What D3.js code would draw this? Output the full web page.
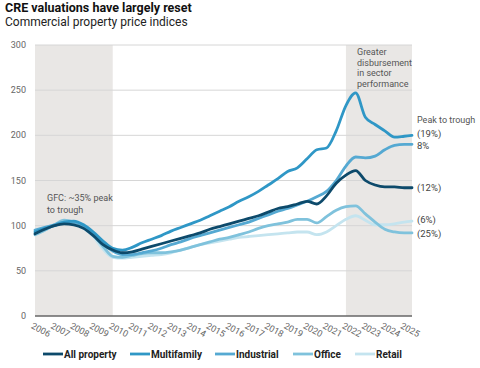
<!DOCTYPE html>
<html><head><meta charset="utf-8">
<script src="https://cdn.jsdelivr.net/npm/d3@7"></script>
<style>
body{margin:0;background:#fff;}
svg text{font-family:Roboto,"Liberation Sans",Arial,sans-serif;}
</style></head>
<body><svg id="c" width="480" height="368"></svg>
<script>
const dates = [2006,2006.5,2007,2007.5,2008,2008.5,2009,2009.5,2010,2010.5,2011,2011.5,2012,2012.5,2013,2013.5,2014,2014.5,2015,2015.5,2016,2016.5,2017,2017.5,2018,2018.5,2019,2019.5,2020,2020.5,2021,2021.5,2022,2022.5,2023,2023.5,2024,2024.5,2025,2025.4];
const allProperty = [91,96,100,102,101,97,89,79,73,70,71,74,77,80,83,86,89,92,96,99,102,105,108,111,115,119,121,124,127,124,133,147,156,161,150,145,143,143,142,142];
const multifamily = [93,97,100,104,105,101,93,83,75,73,76,81,85,89,94,98,102,106,111,116,121,127,132,138,145,152,160,164,174,184,186,205,233,247,220,212,205,198,199,200];
const industrial = [95,98,101,104,104,99,91,80,72,68,68,70,72,75,79,82,86,89,92,95,98,101,104,108,112,116,119,123,127,132,138,150,166,176,175,177,184,189,190,190];
const office = [90,95,101,106,104,99,90,77,66,65,67,69,70,70,71,73,76,79,82,85,87,90,93,97,100,102,104,107,107,103,110,117,121,122,113,104,96,93,92,92];
const retail = [93,97,100,104,103,97,88,74,65,64,65,66,67,68,70,73,76,79,81,83,85,87,88,89,90,91,92,93,93,90,93,100,107,111,106,101,101,102,104,105];
const seriesNames = ["All property","Multifamily","Industrial","Office","Retail"];
const seriesValues = [allProperty, multifamily, industrial, office, retail];
const seriesColors = ["#0d4a6b","#2f97c6","#55a9d2","#7fc2dc","#c4e4ef"];
const endLabels = ["(12%)","(19%)","8%","(25%)","(6%)"];
const yTicks = [0,50,100,150,200,250,300];
const xTicks = d3.range(2006,2026);
const shadeRanges = [[2006,2010],[2022,2025.4]];

const svg = d3.select("#c");
const L=35,R=412,T=45,B=316;
const x = d3.scaleLinear().domain([2006,2025.4]).range([L,R]);
const y = d3.scaleLinear().domain([0,300]).range([B,T]);

svg.append("text").attr("x",5).attr("y",12).attr("font-size",12.5).attr("font-weight","bold").attr("fill","#111").text("CRE valuations have largely reset");
svg.append("text").attr("x",5).attr("y",26).attr("font-size",12).attr("fill","#222").text("Commercial property price indices");

svg.selectAll("rect.shade").data(shadeRanges).enter().append("rect")
  .attr("x",d=>x(d[0])).attr("width",d=>x(d[1])-x(d[0]))
  .attr("y",T).attr("height",B-T).attr("fill","#e9e7e5");

svg.selectAll("line.grid").data(yTicks.filter(d=>d>0)).enter().append("line")
  .attr("x1",L).attr("x2",R).attr("y1",d=>y(d)).attr("y2",d=>y(d))
  .attr("stroke","#d6d6d6").attr("stroke-width",1);

svg.selectAll("text.yl").data(yTicks).enter().append("text")
  .attr("x",26).attr("y",d=>y(d)).attr("dy","0.35em").attr("text-anchor","end")
  .attr("font-size",9).attr("fill","#666").text(d=>d);

svg.selectAll("text.xl").data(xTicks).enter().append("text")
  .attr("transform",d=>`translate(${x(d)-3},${B+9}) rotate(28)`)
  .attr("dy","0.35em").attr("font-size",9).attr("fill","#666").text(d=>d);

// annotations
const ann = svg.append("g").attr("font-size",9).attr("fill","#555");
["Greater","disbursement","in sector","performance"].forEach((t,i)=>
  ann.append("text").attr("x",357).attr("y",55+i*10.5).text(t));
ann.append("text").attr("x",47).attr("y",201).text("GFC: ~35% peak");
ann.append("text").attr("x",47).attr("y",213).text("to trough");
ann.append("text").attr("x",417).attr("y",123).text("Peak to trough");

const line = d3.line().x((d,i)=>x(dates[i])).y(d=>y(d)).curve(d3.curveMonotoneX);
const order = [4,3,2,1,0];
order.forEach(k=>{
  svg.append("path").attr("d",line(seriesValues[k])).attr("fill","none")
    .attr("stroke",seriesColors[k]).attr("stroke-width",2.8)
    .attr("stroke-linejoin","round").attr("stroke-linecap","round");
});
const labelNudge = [0,-1.5,1.5,1,-1];
seriesValues.forEach((v,k)=>{
  svg.append("text").attr("x",417).attr("y",y(v[v.length-1])+labelNudge[k]).attr("dy","0.35em")
    .attr("font-size",9.5).attr("fill","#444").text(endLabels[k]);
});

svg.append("line").attr("x1",L).attr("x2",R).attr("y1",B).attr("y2",B).attr("stroke","#666").attr("stroke-width",1.5);

// legend
const legX = [43,130,215,293,355];
const lg = svg.selectAll("g.leg").data(seriesNames).enter().append("g")
  .attr("transform",(d,i)=>`translate(${legX[i]},354)`);
lg.append("line").attr("x1",0).attr("x2",20).attr("y1",0).attr("y2",0)
  .attr("stroke",(d,i)=>seriesColors[i]).attr("stroke-width",2.8);
lg.append("text").attr("x",21).attr("dy","0.35em").attr("font-size",10).attr("font-weight","bold")
  .attr("fill","#222").text(d=>d);
</script></body></html>
